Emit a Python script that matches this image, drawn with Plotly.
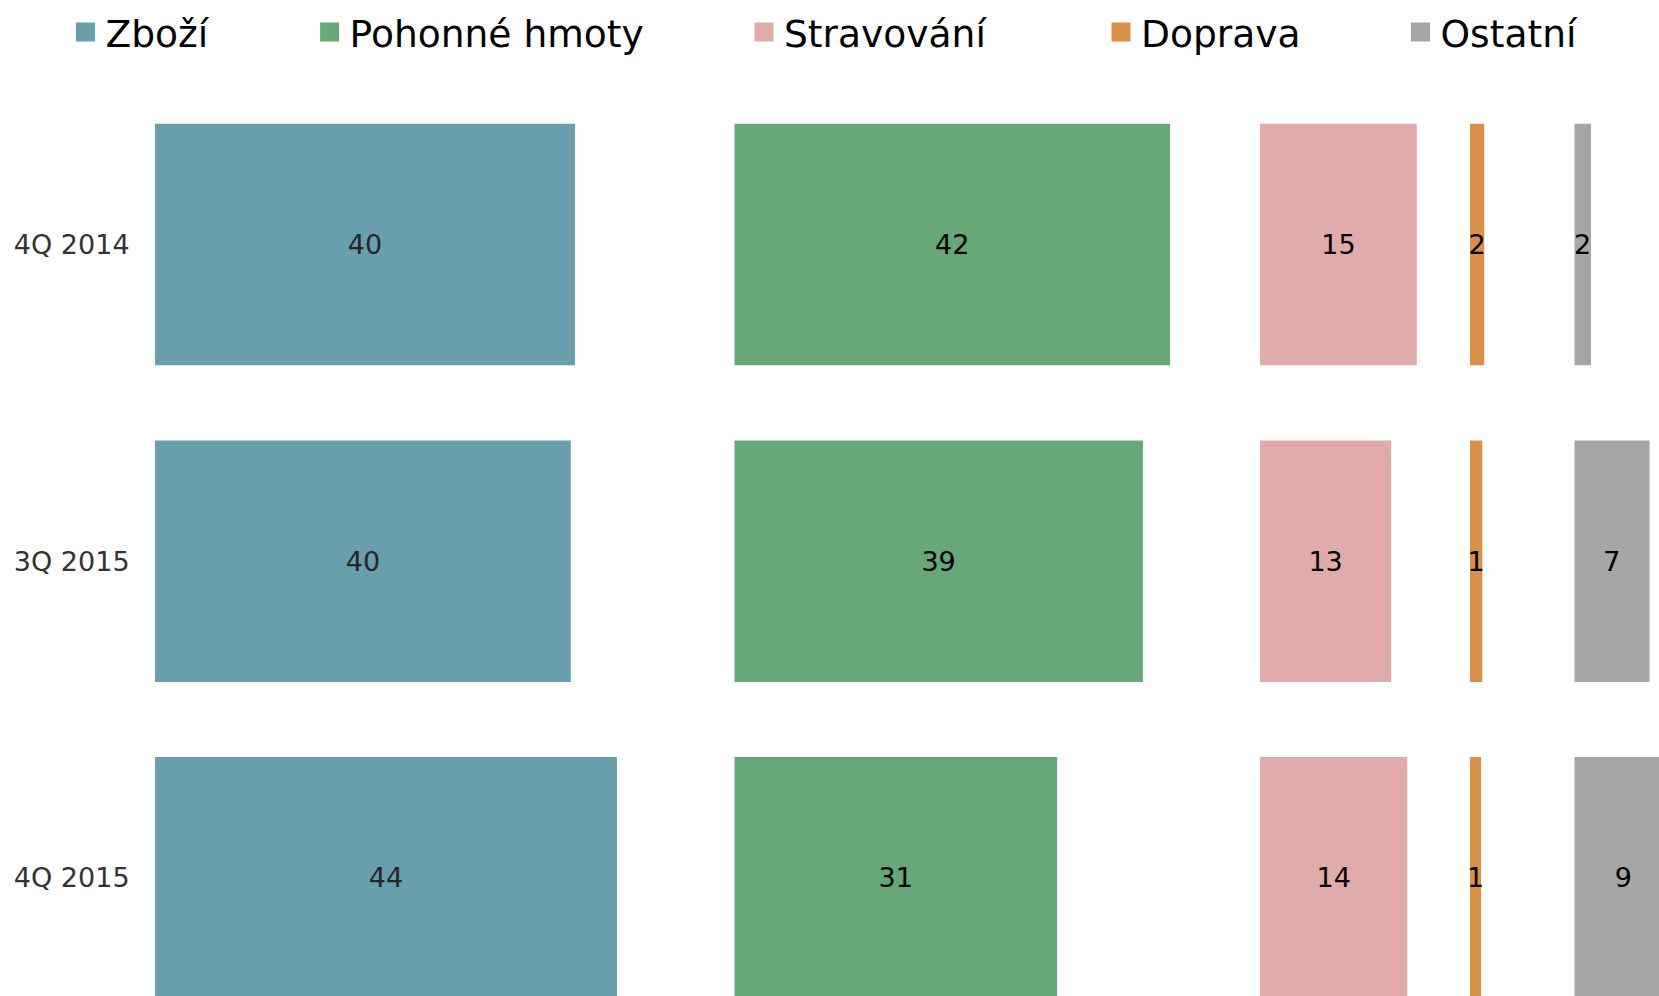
import plotly.graph_objects as go

# ---- data ----
categories = ["4Q 2014", "3Q 2015", "4Q 2015"]
series_names = ["Zboží", "Pohonné hmoty", "Stravování", "Doprava", "Ostatní"]
zbozi = [40.0, 39.6, 44.0]
pohonne_hmoty = [41.7, 39.1, 30.9]
stravovani = [15.0, 12.55, 14.1]
doprava = [1.55, 1.34, 1.2]
ostatni = [1.6, 7.2, 9.4]
series_values = [zbozi, pohonne_hmoty, stravovani, doprava, ostatni]

# ---- styles / layout geometry (page pixels) ----
colors = ["#699EAC", "#68A777", "#E1ABAA", "#DA8F4A", "#A6A6A6"]
text_colors = ["#262626", "#000000", "#000000", "#000000", "#000000"]
W, H = 1690, 996             # figure a bit wider than the window: last bar runs off the edge
panel_start = [155, 734.3, 1260, 1470, 1574.3]
panel_end = [720, 1250, 1460, 1565, W]
px_per_unit = [10.5, 10.45, 10.45, 9.2, 10.45]
legend_center = [85.5, 329.6, 764, 1121, 1420.5]
row_center0 = 244.5
row_pitch = 316.7
legend_mid = 32

FONT = "Verdana, DejaVu Sans, sans-serif"
TOP = 100
plot_h = H - TOP

fig = go.Figure()
for i, (name, vals) in enumerate(zip(series_names, series_values)):
    ax = "x" if i == 0 else f"x{i+1}"
    fig.add_trace(go.Bar(
        y=categories, x=vals, orientation="h", name=name,
        xaxis=ax, yaxis="y", showlegend=False,
        marker=dict(color=colors[i], line=dict(width=0)),
        texttemplate="%{x:.0f}", textposition="inside",
        insidetextanchor="middle", textangle=0,
        textfont=dict(family=FONT, size=27, color=text_colors[i]),
        cliponaxis=False, hoverinfo="skip",
    ))
    lg = "legend" if i == 0 else f"legend{i+1}"
    fig.add_trace(go.Scatter(
        x=[None], y=[None], mode="markers", name=name,
        xaxis="x", yaxis="y", legend=lg, showlegend=True,
        marker=dict(symbol="square", size=16, color=colors[i],
                    line=dict(width=3, color=colors[i])),
        hoverinfo="skip",
    ))

layout = dict(
    width=W, height=H,
    margin=dict(l=0, r=0, t=TOP, b=0, pad=0, autoexpand=False),
    paper_bgcolor="white", plot_bgcolor="white",
    bargap=0.237,
    font=dict(family=FONT, color="#333333"),
    uniformtext=dict(minsize=27, mode="show"),
    hovermode=False,
    yaxis=dict(
        anchor="x", domain=[0, 1],
        range=[(H - row_center0) / row_pitch, -(row_center0 - TOP) / row_pitch],
        autorange=False,
        showgrid=False, zeroline=False, showline=False,
        ticks="outside", ticklen=19, tickcolor="rgba(0,0,0,0)",
        tickfont=dict(family=FONT, size=27, color="#333333"),
        automargin=False,
    ),
)
for i in range(5):
    key = "xaxis" if i == 0 else f"xaxis{i+1}"
    s, e = panel_start[i], panel_end[i]
    span = (e - s) / px_per_unit[i]
    layout[key] = dict(
        domain=[s / W, e / W], anchor="y", range=[0, span], autorange=False,
        showgrid=False, zeroline=False, showline=False,
        showticklabels=False, ticks="", automargin=False,
    )
    lkey = "legend" if i == 0 else f"legend{i+1}"
    layout[lkey] = dict(
        x=(legend_center[i] - 20) / W, xanchor="left",
        y=1 + (TOP - legend_mid) / plot_h, yanchor="middle",
        orientation="h", bgcolor="rgba(0,0,0,0)", borderwidth=0,
        font=dict(family=FONT, size=37.6, color="#000000"),
        itemclick=False, itemdoubleclick=False,
    )

fig.update_layout(**layout)
fig.write_html(
    "out.html",
    config={"displayModeBar": False},
    post_script="document.body.style.margin='0px';",
)
